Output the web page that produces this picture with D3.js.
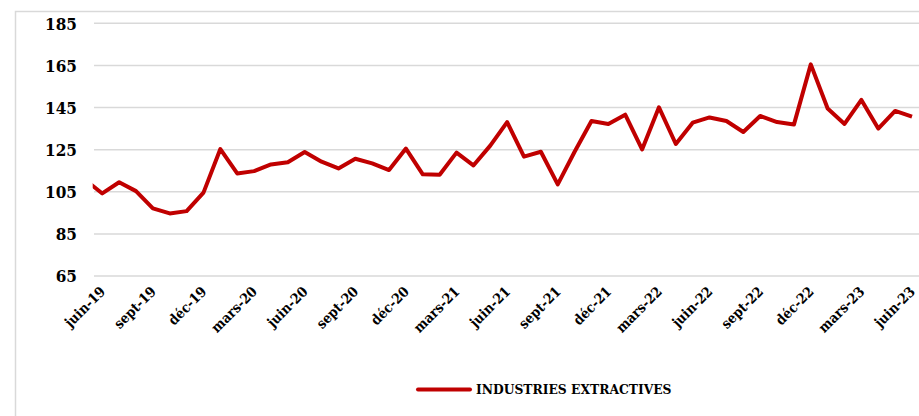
<!DOCTYPE html>
<html>
<head>
<meta charset="utf-8">
<script src="https://cdn.jsdelivr.net/npm/d3@7"></script>
<style>
  body { margin: 0; background: #fff; }
  svg { display: block; }
</style>
</head>
<body>
<svg id="chart" width="919" height="416"></svg>
<script>
const months = ["mai-19",
  "juin-19","juil-19","août-19","sept-19","oct-19","nov-19","déc-19",
  "janv-20","févr-20","mars-20","avr-20","mai-20","juin-20","juil-20","août-20","sept-20","oct-20","nov-20","déc-20",
  "janv-21","févr-21","mars-21","avr-21","mai-21","juin-21","juil-21","août-21","sept-21","oct-21","nov-21","déc-21",
  "janv-22","févr-22","mars-22","avr-22","mai-22","juin-22","juil-22","août-22","sept-22","oct-22","nov-22","déc-22",
  "janv-23","févr-23","mars-23","avr-23","mai-23","juin-23"];
const values = [110.6,
  104.2,109.5,105.3,97.1,94.7,95.8,104.6,
  125.3,113.7,114.8,118,119,123.9,119.3,116.1,120.7,118.5,115.3,125.5,
  113.3,113.1,123.6,117.5,126.9,138.1,121.7,124,108.5,124,138.6,137.2,
  141.6,125.1,145.1,127.7,137.8,140.3,138.6,133.4,141,138.1,136.9,165.5,
  144.5,137.2,148.6,135,143.4,140.7];
const tickLabels = ["juin-19","sept-19","déc-19","mars-20","juin-20","sept-20","déc-20","mars-21",
  "juin-21","sept-21","déc-21","mars-22","juin-22","sept-22","déc-22","mars-23","juin-23"];
const yTicks = [65, 85, 105, 125, 145, 165, 185];
const seriesName = "INDUSTRIES EXTRACTIVES";

const svg = d3.select("#chart");
const font = "'DejaVu Serif Condensed', 'DejaVu Serif', serif";
const color = "#C00000";
const grid = "#d9d9d9";

// frame
svg.append("path").attr("d", "M15.5,416 V11.5 H919").attr("fill", "none")
  .attr("stroke", grid).attr("stroke-width", 1.5);

const x = d3.scalePoint().domain(months).range([85.4, 912]);
const y = d3.scaleLinear().domain([65, 185]).range([276, 23.3]);

// gridlines
svg.append("g").selectAll("line").data(yTicks).join("line")
  .attr("x1", 94).attr("x2", 919)
  .attr("y1", d => y(d)).attr("y2", d => y(d))
  .attr("stroke", grid).attr("stroke-width", 1.5);

// y axis labels
const yAxis = d3.axisLeft(y).tickValues(yTicks).tickSize(0).tickPadding(0);
const yg = svg.append("g").attr("transform", "translate(77,0)").call(yAxis);
yg.select(".domain").remove();
yg.selectAll("text").attr("font-family", font).attr("font-weight", "bold")
  .attr("font-size", 17).attr("fill", "#000").attr("dy", "0.35em");

// x axis labels
const xAxis = d3.axisBottom(x).tickValues(tickLabels).tickSize(0).tickPadding(0);
const xg = svg.append("g").attr("transform", "translate(0,282)").call(xAxis);
xg.select(".domain").remove();
xg.selectAll("text")
  .attr("font-family", font).attr("font-weight", "bold").attr("font-size", 14)
  .attr("fill", "#000")
  .attr("text-anchor", "end")
  .attr("dy", "0.35em").attr("y", 0)
  .attr("transform", "translate(0,7) rotate(-45)");

// clip
svg.append("clipPath").attr("id", "clip").append("rect")
  .attr("x", 92.7).attr("y", 0).attr("width", 830).attr("height", 300);

const line = d3.line().x((d, i) => x(months[i])).y(d => y(d));
svg.append("path").datum(values)
  .attr("clip-path", "url(#clip)")
  .attr("d", line).attr("fill", "none")
  .attr("stroke", color).attr("stroke-width", 4)
  .attr("stroke-linejoin", "round");

// legend
const lg = svg.append("g");
lg.append("line").attr("x1", 418).attr("x2", 470).attr("y1", 389.5).attr("y2", 389.5)
  .attr("stroke", color).attr("stroke-width", 4).attr("stroke-linecap", "round");
lg.append("text").attr("x", 476).attr("y", 389.5).attr("dy", "0.35em")
  .attr("font-family", font).attr("font-weight", "bold").attr("font-size", 13.7)
  .attr("fill", "#000").text(seriesName);
</script>
</body>
</html>
